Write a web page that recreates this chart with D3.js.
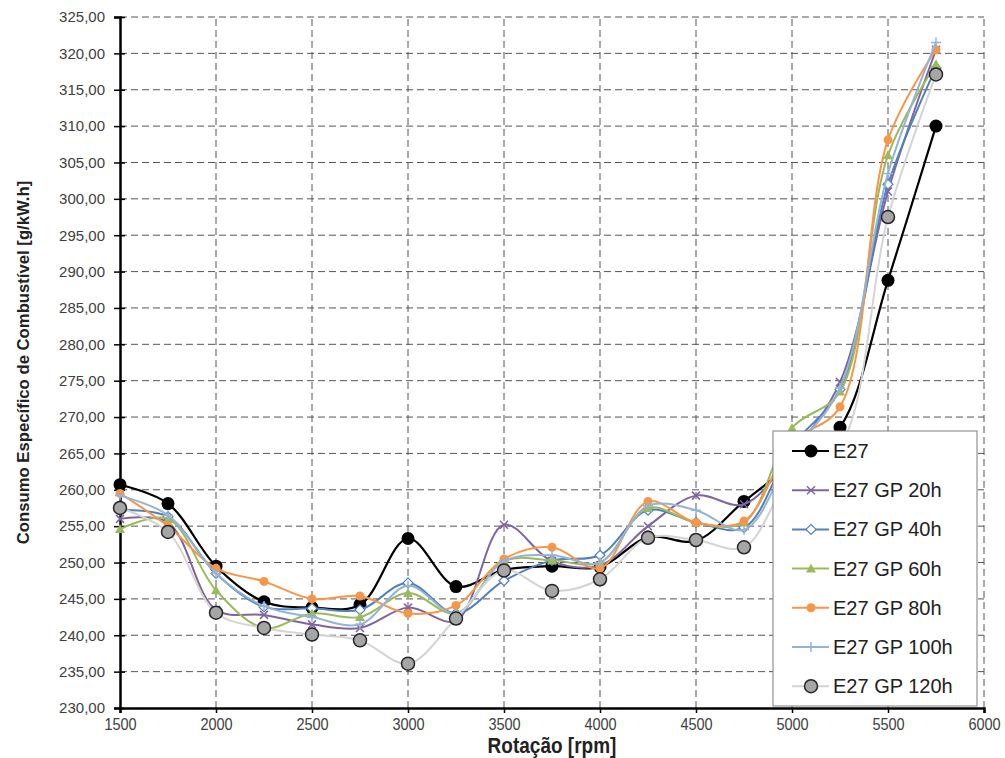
<!DOCTYPE html>
<html>
<head>
<meta charset="utf-8">
<script src="https://cdn.jsdelivr.net/npm/d3@7"></script>
<style>
  body { margin: 0; background: #fff; }
  text { font-family: "Liberation Sans", Arial, sans-serif; }
</style>
</head>
<body>
<div id="chart"></div>
<script>
// rotation values (rpm)
const rpm = [1500, 1750, 2000, 2250, 2500, 2750, 3000, 3250, 3500, 3750, 4000, 4250, 4500, 4750, 5000, 5250, 5500, 5750];

const e27     = [260.7, 258.1, 249.5, 244.6, 243.8, 244.2, 253.3, 246.7, 249.0, 249.5, 249.4, 253.5, 253.0, 258.4, 263.5, 268.6, 288.8, 310.0];
const gp20h   = [256.0, 255.5, 243.5, 242.8, 241.5, 241.0, 243.8, 242.0, 255.2, 250.2, 249.6, 255.0, 259.2, 258.0, 265.0, 274.8, 301.0, 320.5];
const gp40h   = [257.2, 256.3, 248.5, 243.9, 243.7, 243.5, 247.2, 243.0, 247.5, 250.3, 251.0, 257.2, 255.5, 254.8, 266.0, 273.8, 302.0, 318.0];
const gp60h   = [254.6, 256.0, 246.2, 241.0, 243.0, 242.5, 245.8, 243.0, 250.2, 250.3, 250.0, 257.5, 255.5, 255.5, 268.5, 273.5, 306.0, 318.5];
const gp80h   = [259.5, 255.0, 249.2, 247.4, 245.0, 245.4, 243.0, 244.1, 250.5, 252.1, 249.2, 258.4, 255.5, 255.7, 266.5, 271.4, 308.1, 320.5];
const gp100h  = [259.2, 256.5, 248.5, 244.0, 242.5, 241.5, 246.8, 243.0, 250.2, 251.0, 250.0, 257.8, 257.2, 254.5, 265.0, 274.0, 303.5, 321.5];
const gp120h  = [257.5, 254.2, 243.1, 241.0, 240.1, 239.3, 236.1, 242.3, 248.9, 246.1, 247.7, 253.4, 253.1, 252.1, 262.0, 266.0, 297.5, 317.1];

const seriesNames = ["E27", "E27 GP 20h", "E27 GP 40h", "E27 GP 60h", "E27 GP 80h", "E27 GP 100h", "E27 GP 120h"];
const seriesValues = [e27, gp20h, gp40h, gp60h, gp80h, gp100h, gp120h];
const colors = ["#000000", "#8064a2", "#4f81bd", "#9bbb59", "#f79646", "#95b3d7", "#d4d4d4"];
const markers = ["bigdot", "cross", "diamond", "triangle", "dot", "plus", "grey"];

const xTicks = d3.range(1500, 6001, 500);
const yTicks = d3.range(230, 325.1, 5);

const width = 1005, height = 758;
const margin = { top: 17, right: 21, bottom: 50, left: 120 };

const svg = d3.select('#chart')
    .append('svg')
    .attr('width', width)
    .attr('height', height);

const x = d3.scaleLinear()
    .domain([1500, 6000])
    .range([margin.left, width - margin.right]);

const y = d3.scaleLinear()
    .domain([230, 325])
    .range([height - margin.bottom, margin.top]);

// grid
const grid = svg.append('g').attr('class', 'grid');
grid.selectAll('line.v')
    .data(xTicks.slice(1))
    .enter()
        .append('line')
        .attr('x1', d => x(d)).attr('x2', d => x(d))
        .attr('y1', y(230)).attr('y2', y(325))
        .attr('stroke', '#555').attr('stroke-width', 1)
        .attr('stroke-dasharray', '7,4');
grid.selectAll('line.h')
    .data(yTicks.slice(1))
    .enter()
        .append('line')
        .attr('x1', x(1500)).attr('x2', x(6000))
        .attr('y1', d => y(d)).attr('y2', d => y(d))
        .attr('stroke', '#555').attr('stroke-width', 1)
        .attr('stroke-dasharray', '7,4');

// axes
const yAxis = svg.append('g')
    .attr('transform', `translate(${margin.left},0)`)
    .call(d3.axisLeft(y)
        .tickValues(yTicks)
        .tickSize(6)
        .tickPadding(9)
        .tickFormat(d => d3.format('.2f')(d).replace('.', ',')));
yAxis.select('.domain').attr('stroke', '#000').attr('stroke-width', 2.5);
yAxis.selectAll('.tick line').attr('stroke', '#000').attr('stroke-width', 1.5)
    .attr('x1', 5);
yAxis.selectAll('.tick text').attr('font-size', 15).attr('fill', '#404040');

const xAxis = svg.append('g')
    .attr('transform', `translate(0,${y(230)})`)
    .call(d3.axisBottom(x)
        .tickValues(xTicks)
        .tickSize(5)
        .tickPadding(4)
        .tickFormat(d3.format('d')));
xAxis.select('.domain').attr('stroke', '#000').attr('stroke-width', 2.5);
xAxis.selectAll('.tick line').attr('stroke', '#000').attr('stroke-width', 1.5);
xAxis.selectAll('.tick text')
    .attr('font-size', 14.5)
    .attr('fill', '#404040')
    .attr('transform', 'scale(1,1.15)');

// axis titles
svg.append('text')
    .attr('transform', `translate(${(x(1500) + x(6000)) / 2},753) scale(1,1.15)`)
    .attr('text-anchor', 'middle')
    .attr('font-weight', 'bold')
    .attr('font-size', 19)
    .attr('fill', '#222')
    .text('Rotação [rpm]');

svg.append('text')
    .attr('transform', `translate(29,${(y(230) + y(325)) / 2}) rotate(-90)`)
    .attr('text-anchor', 'middle')
    .attr('font-weight', 'bold')
    .attr('font-size', 16.7)
    .attr('fill', '#222')
    .text('Consumo Específico de Combustível [g/kW.h]');

// lines
const line = d3.line()
    .x((d, i) => x(rpm[i]))
    .y(d => y(d))
    .curve(d3.curveCatmullRom.alpha(0.5));

const drawMarker = (g, type, color, cx, cy) => {
    if (type === 'bigdot') {
        g.append('circle').attr('cx', cx).attr('cy', cy).attr('r', 6.5).attr('fill', '#000');
    } else if (type === 'grey') {
        g.append('circle').attr('cx', cx).attr('cy', cy).attr('r', 6.5)
            .attr('fill', '#a6a6a6').attr('stroke', '#262626').attr('stroke-width', 1.5);
    } else if (type === 'dot') {
        g.append('circle').attr('cx', cx).attr('cy', cy).attr('r', 4.5).attr('fill', color);
    } else if (type === 'cross') {
        g.append('path').attr('d', `M${cx - 4},${cy - 4}L${cx + 4},${cy + 4}M${cx - 4},${cy + 4}L${cx + 4},${cy - 4}`)
            .attr('stroke', color).attr('stroke-width', 1.5);
    } else if (type === 'plus') {
        g.append('path').attr('d', `M${cx - 5},${cy}L${cx + 5},${cy}M${cx},${cy - 5}L${cx},${cy + 5}`)
            .attr('stroke', color).attr('stroke-width', 1.5);
    } else if (type === 'diamond') {
        g.append('path').attr('d', `M${cx},${cy - 5}L${cx + 5},${cy}L${cx},${cy + 5}L${cx - 5},${cy}Z`)
            .attr('fill', '#fff').attr('stroke', color).attr('stroke-width', 1.2);
    } else if (type === 'triangle') {
        g.append('path').attr('d', `M${cx},${cy - 5}L${cx + 5},${cy + 4}L${cx - 5},${cy + 4}Z`)
            .attr('fill', color);
    }
};

seriesValues.forEach((vals, s) => {
    const g = svg.append('g').attr('class', 'series');
    g.append('path')
        .datum(vals)
        .attr('d', line)
        .attr('fill', 'none')
        .attr('stroke', colors[s])
        .attr('stroke-width', s === 0 ? 2.2 : 2);
    vals.forEach((v, i) => drawMarker(g, markers[s], colors[s], x(rpm[i]), y(v)));
});

// legend
const lg = svg.append('g').attr('transform', 'translate(773,431)');
lg.append('rect')
    .attr('width', 204).attr('height', 275)
    .attr('fill', '#fff').attr('stroke', '#7f7f7f').attr('stroke-width', 1);
seriesNames.forEach((name, s) => {
    const cy = 20 + s * 39.2;
    lg.append('line')
        .attr('x1', 19).attr('x2', 56).attr('y1', cy).attr('y2', cy)
        .attr('stroke', colors[s]).attr('stroke-width', 2);
    drawMarker(lg, markers[s], colors[s], 38, cy);
    lg.append('text')
        .attr('x', 60).attr('y', cy + 7)
        .attr('font-size', 20)
        .attr('fill', '#222')
        .text(name);
});
</script>
</body>
</html>
